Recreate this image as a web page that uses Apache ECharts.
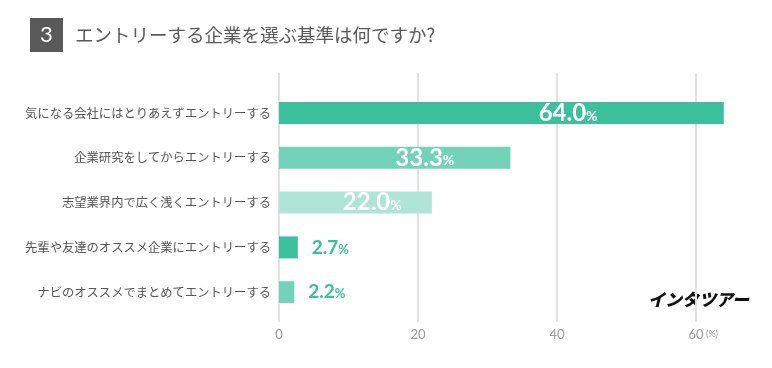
<!DOCTYPE html>
<html><head><meta charset="utf-8">
<script src="https://cdn.jsdelivr.net/npm/echarts@6/dist/echarts.min.js"></script>
<style>html,body{margin:0;padding:0;background:#fff}#c{width:772px;height:368px}</style>
</head><body><div id="c"></div>
<script>
const categories = [
  '気になる会社にはとりあえずエントリーする',
  '企業研究をしてからエントリーする',
  '志望業界内で広く浅くエントリーする',
  '先輩や友達のオススメ企業にエントリーする',
  'ナビのオススメでまとめてエントリーする'
];
const values = [64.0, 33.3, 22.0, 2.7, 2.2];
const barColors = ['#3cc09c', '#72d3b8', '#aee5d6', '#3cc09c', '#72d3b8'];
const labelInside = [true, true, true, false, false];
const labelPosX = ['65%', '63%', '61%', null, null];
const xTicks = [0, 20, 40, 60];
const titleText = 'エントリーする企業を選ぶ基準は何ですか?';
const titleNum = '3';

const chart = echarts.init(document.getElementById('c'), null, {renderer: 'canvas'});
const CJK = '"Noto Sans CJK JP", "Noto Sans", sans-serif';
const NUM = 'Lato, "Noto Sans", sans-serif';

const data = values.map((v, i) => {
  const inside = labelInside[i];
  return {
    value: v,
    itemStyle: {color: barColors[i]},
    label: inside ? {
      position: [labelPosX[i], '50%'], align: 'center', verticalAlign: 'middle',
      rich: {
        v: {fontFamily: NUM, fontWeight: 'bold', fontSize: 24, color: '#fff'},
        p: {fontFamily: NUM, fontWeight: 'bold', fontSize: 14, color: '#fff', padding: [6, 0, 0, 0]}
      }
    } : {
      position: 'right', distance: 14,
      rich: {
        v: {fontFamily: NUM, fontWeight: 'bold', fontSize: 19, color: '#3cc09c'},
        p: {fontFamily: NUM, fontWeight: 'bold', fontSize: 13, color: '#3cc09c', padding: [4, 0, 0, 0]}
      }
    }
  };
});

chart.setOption({
  animation: false,
  backgroundColor: '#fff',
  grid: [
    {left: 279, top: 73, height: 249, width: 556, containLabel: false, outerBoundsMode: 'none'},
    {left: 279, top: 90.6, height: 224, width: 556, containLabel: false, outerBoundsMode: 'none'}
  ],
  xAxis: [
    {gridIndex: 0, type: 'value', min: 0, max: 80, interval: 20,
     axisLine: {show: false}, axisTick: {show: false},
     splitLine: {show: true, lineStyle: {color: '#e2e2e2', width: 2}},
     axisLabel: {margin: 6, color: '#9a9a9a', fontFamily: NUM, fontSize: 13,
       formatter: v => xTicks.indexOf(v) >= 0 ? String(v) : ''}},
    {gridIndex: 1, type: 'value', min: 0, max: 80, show: false}
  ],
  yAxis: [
    {gridIndex: 0, type: 'category', data: categories, show: false},
    {gridIndex: 1, type: 'category', data: categories, inverse: true,
     axisLine: {show: false}, axisTick: {show: false},
     axisLabel: {margin: 8, color: '#555', fontFamily: CJK, fontSize: 12.3}}
  ],
  series: [{
    type: 'bar', xAxisIndex: 1, yAxisIndex: 1,
    data: data, barWidth: 22,
    label: {show: true, formatter: p => '{v|' + p.value.toFixed(1) + '}{p|%}'}
  }],
  graphic: [
    {type: 'rect', shape: {x: 30, y: 18, width: 33, height: 34}, style: {fill: '#595959'}},
    {type: 'text', x: 46.5, y: 35, style: {text: titleNum, fill: '#fff', font: '22px ' + NUM, textAlign: 'center', textVerticalAlign: 'middle'}},
    {type: 'text', x: 75, y: 35, style: {text: titleText, fill: '#5a5a5a', font: '18.5px ' + CJK, textVerticalAlign: 'middle'}},
    {type: 'text', x: 706, y: 334, style: {text: '(%)', fill: '#9a9a9a', font: '9px ' + NUM, textVerticalAlign: 'middle'}},
    {type: 'text', x: 648, y: 300, style: {text: 'インタツアー', fill: '#111', font: 'italic 900 17px ' + CJK, textVerticalAlign: 'middle'}}
  ]
});
</script></body></html>
